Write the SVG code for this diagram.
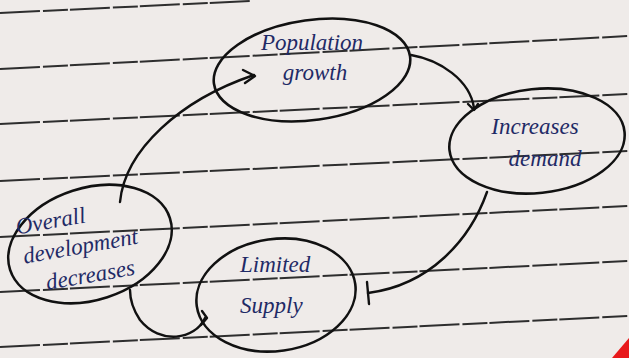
<svg xmlns="http://www.w3.org/2000/svg" width="629" height="358" viewBox="0 0 629 358">
<defs>
<style>
.rule{stroke:#2e2e2e;stroke-width:2;fill:none;stroke-dasharray:40 3 25 2}
.node{fill:none;stroke:#111;stroke-width:2.6}
.edge{fill:none;stroke:#111;stroke-width:2.4;stroke-linecap:round;stroke-linejoin:round}
.lbl{font-family:"Liberation Serif",serif;font-style:italic;font-size:23px;fill:#1f2a66}
</style>
</defs>
<rect width="629" height="358" fill="#efebe9"/>
<g id="paper-rules">
<line class="rule" x1="0" y1="13" x2="250" y2="1"/>
<line class="rule" x1="0" y1="69" x2="629" y2="36"/>
<line class="rule" x1="0" y1="124" x2="629" y2="94"/>
<line class="rule" x1="0" y1="181" x2="629" y2="151"/>
<line class="rule" x1="0" y1="237" x2="629" y2="206"/>
<line class="rule" x1="0" y1="292" x2="629" y2="261"/>
<line class="rule" x1="0" y1="347" x2="629" y2="316"/>
</g>
<g id="node-population">
<ellipse class="node" cx="312" cy="70" rx="99" ry="50" transform="rotate(-8 312 70)"/>
<text class="lbl" x="312" y="50" text-anchor="middle">Population</text>
<text class="lbl" x="315" y="80" text-anchor="middle">growth</text>
</g>
<g id="node-demand">
<ellipse class="node" cx="537" cy="141" rx="88" ry="52" transform="rotate(-6 537 141)"/>
<text class="lbl" x="535" y="134" text-anchor="middle">Increases</text>
<text class="lbl" x="545" y="166" text-anchor="middle">demand</text>
</g>
<g id="node-overall">
<ellipse class="node" cx="90" cy="244" rx="84" ry="56" transform="rotate(-18 90 244)"/>
<g transform="rotate(-10 90 244)">
<text class="lbl" x="20" y="222">Overall</text>
<text class="lbl" x="22" y="252">development</text>
<text class="lbl" x="40" y="282">decreases</text>
</g>
</g>
<g id="node-limited">
<ellipse class="node" cx="276" cy="295" rx="80" ry="56" transform="rotate(-8 276 295)"/>
<text class="lbl" x="240" y="272">Limited</text>
<text class="lbl" x="240" y="313">Supply</text>
</g>
<g id="connectors">
<path class="edge" d="M411 55 C440 60 470 80 474 108"/>
<path class="edge" d="M468 104 L474 110 L478 104"/>
<path class="edge" d="M487 192 C470 240 430 285 368 293"/>
<path class="edge" d="M367 282 L369 304"/>
<path class="edge" d="M205 318 C195 340 160 345 140 320 C132 308 130 298 130 290"/>
<path class="edge" d="M202 311 L207 318 L201 325"/>
<path class="edge" d="M120 202 C125 150 180 100 254 75"/>
<path class="edge" d="M243 70 L255 76 L245 83"/>
</g>
<polygon points="629,338 629,358 612,358" fill="#e8191b"/>
</svg>
